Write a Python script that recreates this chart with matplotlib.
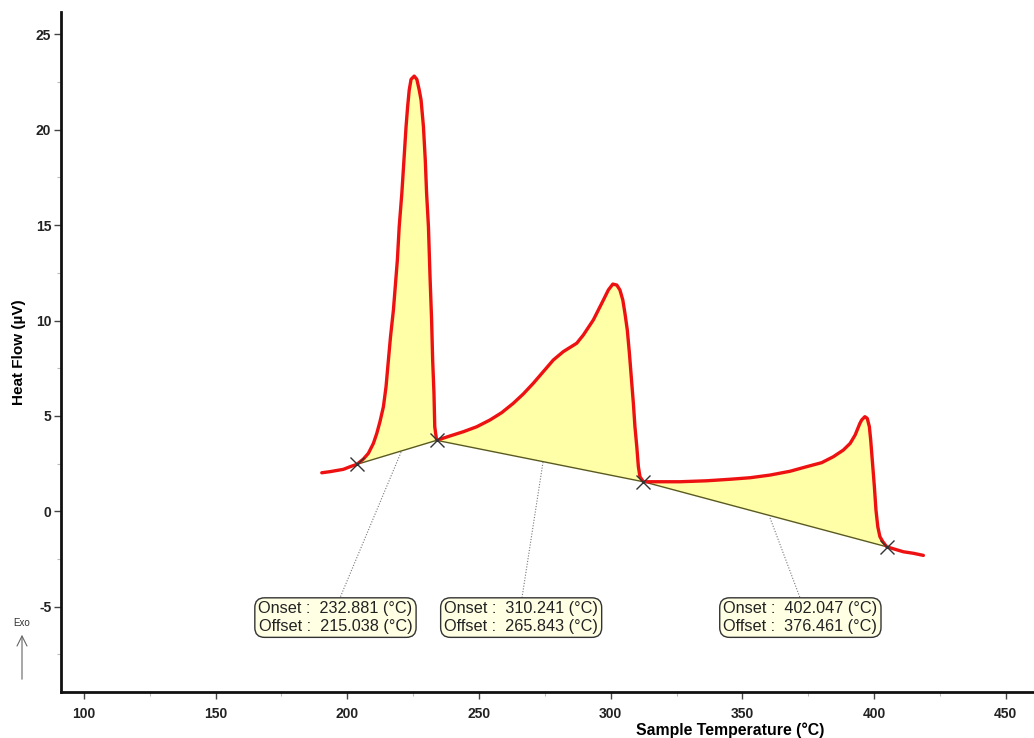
import matplotlib
matplotlib.use("Agg")
import matplotlib.pyplot as plt
from matplotlib.ticker import MultipleLocator

plt.rcParams['font.family'] = ['Liberation Sans', 'DejaVu Sans']
plt.rcParams['axes.unicode_minus'] = False

# ---- data ----
temperature = [190.3, 193.5, 198.5, 201.1, 203.6, 206.1, 208.0, 209.9, 211.2, 212.4,
               213.7, 214.7, 215.6, 216.4, 217.5, 218.2, 219.0, 219.7, 220.7, 221.5,
               222.3, 222.9, 223.5, 224.2, 225.4, 226.4, 227.3, 228.0, 228.9, 229.6,
               230.1, 230.8, 231.4, 232.0, 232.4, 232.9, 233.2, 233.9,
               239.0, 244.0, 249.1, 254.2, 258.6, 263.0, 266.8, 270.6, 274.4, 278.2,
               282.0, 287.1, 289.6, 293.4, 295.3, 297.2, 299.1, 300.8, 302.3, 303.5,
               304.6, 305.4, 306.3, 307.1, 307.8, 308.6, 309.2, 309.9, 310.5, 311.1,
               312.4,
               326.3, 336.4, 345.3, 352.9, 360.5, 368.1, 374.4, 380.1, 384.5, 388.3,
               390.9, 392.8, 394.6, 395.3, 396.5, 397.4, 398.2, 398.7, 399.5, 400.1,
               400.7, 401.4, 402.2, 403.3, 404.8, 411.1, 414.9, 418.7]
heat_flow = [2.02, 2.08, 2.20, 2.34, 2.46, 2.74, 3.04, 3.56, 4.09, 4.70,
             5.48, 6.53, 7.93, 9.15, 10.55, 11.77, 13.17, 14.92, 16.67, 18.41,
             20.16, 21.21, 22.08, 22.64, 22.81, 22.64, 22.08, 21.56, 20.16, 18.41,
             16.67, 14.92, 12.30, 10.03, 7.93, 6.18, 4.43, 3.72,
             3.95, 4.17, 4.43, 4.79, 5.17, 5.66, 6.15, 6.71, 7.32, 7.93,
             8.37, 8.81, 9.24, 10.03, 10.55, 11.07, 11.60, 11.91, 11.86, 11.60,
             11.07, 10.38, 9.50, 8.28, 7.05, 5.66, 4.43, 3.39, 2.34, 1.81,
             1.55,
             1.55, 1.60, 1.68, 1.76, 1.90, 2.10, 2.34, 2.55, 2.86, 3.21,
             3.56, 4.00, 4.61, 4.79, 4.96, 4.87, 4.43, 3.74, 2.34, 1.29,
             0.07, -0.81, -1.33, -1.59, -1.86, -2.12, -2.20, -2.31]

# baseline end points (onset / offset markers)
marker_t = [203.6, 233.9, 312.4, 404.8]
marker_hf = [2.46, 3.72, 1.55, -1.86]

onsets = ["232.881", "310.241", "402.047"]
offsets = ["215.038", "265.843", "376.461"]
# box centre positions and leader line end points
box_t = [195.5, 266.0, 372.0]
box_hf = [-5.57, -5.57, -5.57]
leader_from_t = [220.4, 274.3, 360.5]
leader_from_hf = [3.10, 2.58, -0.35]
leader_to_t = [197.2, 266.3, 371.9]
leader_to_hf = [-4.54, -4.54, -4.54]

# ---- figure ----
fig = plt.figure(figsize=(10.34, 7.38), dpi=100)
ax = fig.add_axes([61 / 1034, 1 - 692 / 738, 1 - 61 / 1034, (692 - 12) / 738])

# fills between curve and straight baselines
for i in range(3):
    i0 = temperature.index(marker_t[i])
    i1 = temperature.index(marker_t[i + 1])
    seg_t = temperature[i0:i1 + 1]
    seg_h = heat_flow[i0:i1 + 1]
    ax.fill(seg_t, seg_h, color='#FFFFA8', zorder=1, lw=0)
    ax.plot([marker_t[i], marker_t[i + 1]], [marker_hf[i], marker_hf[i + 1]],
            color='#5a5a20', lw=1.0, zorder=2)

ax.plot(temperature, heat_flow, color='#EE1111', lw=2.4, zorder=3,
        solid_capstyle='round', solid_joinstyle='round')
ax.plot(marker_t, marker_hf, ls='none', marker='x', ms=10, mew=1.0,
        color='#333333', zorder=4)

# leader lines and boxes
for i in range(3):
    ax.plot([leader_from_t[i], leader_to_t[i]], [leader_from_hf[i], leader_to_hf[i]],
            color='#777777', lw=0.8, ls=(0, (1, 1.5)), zorder=2)
    txt = f"Onset :  {onsets[i]} (°C)\nOffset :  {offsets[i]} (°C)"
    ax.text(box_t[i], box_hf[i], txt, ha='center', va='center', fontsize=11.7,
            color='#222222', linespacing=1.2, zorder=5,
            bbox=dict(boxstyle='round,pad=0.22,rounding_size=0.6',
                      facecolor='#FFFFE4', edgecolor='#333333', lw=1.0))

ax.set_xlim(91.3, 460.7)
ax.set_ylim(-9.47, 26.17)

ax.xaxis.set_major_locator(MultipleLocator(50))
ax.xaxis.set_minor_locator(MultipleLocator(25))
ax.yaxis.set_major_locator(MultipleLocator(5))
ax.yaxis.set_minor_locator(MultipleLocator(2.5))

for s in ['top', 'right']:
    ax.spines[s].set_visible(False)
for s in ['left', 'bottom']:
    ax.spines[s].set_linewidth(2.0)
    ax.spines[s].set_color('#111111')

ax.tick_params(axis='both', which='major', length=5, width=1, color='#444444',
               labelsize=10, labelcolor='#222222')
ax.tick_params(axis='both', which='minor', length=3, width=0.8, color='#bbbbbb')
ax.tick_params(axis='x', which='major', pad=6)
ax.tick_params(axis='y', which='major', pad=2)
for lab in ax.get_xticklabels() + ax.get_yticklabels():
    lab.set_fontweight('bold')

ax.set_ylabel("Heat Flow (µV)", fontsize=11, fontweight='bold')
ax.yaxis.set_label_coords(-0.0355, 0.5)
fig.text(730 / 1034, 1 - 730 / 738, "Sample Temperature (°C)", ha='center',
         va='center', fontsize=11.4, fontweight='bold')

# Exo arrow
fig.text(22 / 1034, 1 - 623 / 738, "Exo", ha='center', va='center', fontsize=7,
         color='#333333')
ax.annotate("", xy=(22, 738 - 632), xytext=(22, 738 - 682),
            xycoords='figure pixels', textcoords='figure pixels',
            arrowprops=dict(arrowstyle='->', color='#666666', lw=0.8,
                            mutation_scale=18))

fig.savefig("out.png", dpi=100)
